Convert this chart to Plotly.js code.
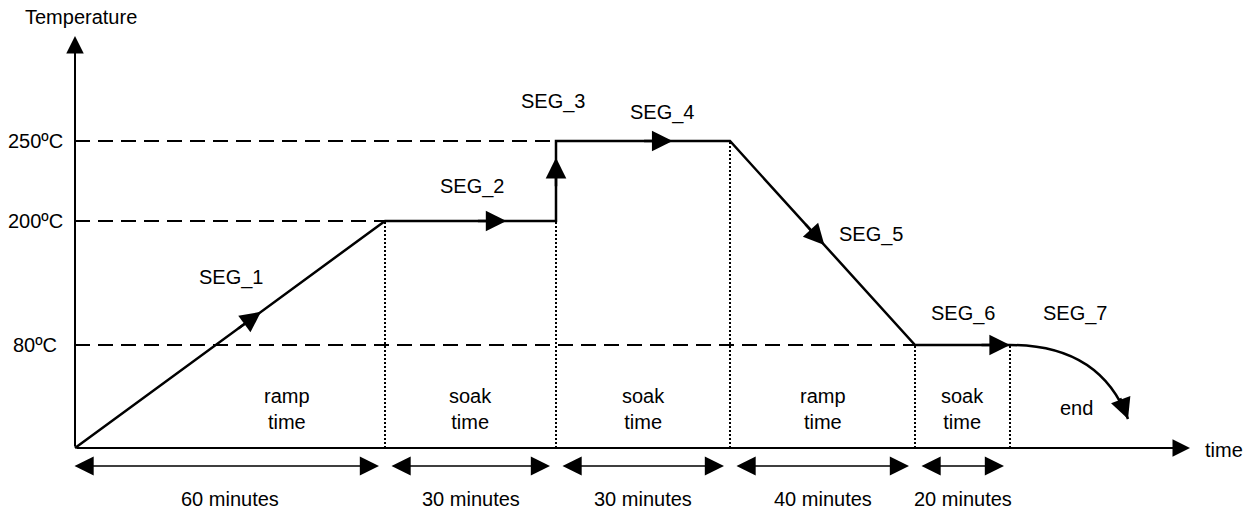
<!DOCTYPE html>
<html>
<head>
<meta charset="utf-8">
<script src="https://cdn.plot.ly/plotly-3.0.1.min.js"></script>
<style>html,body{margin:0;padding:0;background:#fff;}#chart{width:1258px;height:513px;}</style>
</head>
<body>
<div id="chart"></div>
<script>
// ---------------- data (schematic diagram units) ----------------
const segmentNames = ['SEG_1', 'SEG_2', 'SEG_3', 'SEG_4', 'SEG_5', 'SEG_6', 'SEG_7'];
const tempLabels = ['80ºC', '200ºC', '250ºC'];
const tempLevels = [103, 227, 307];            // schematic height of each temperature level
const phaseBreaks = [0, 310, 481, 655, 840, 935]; // schematic time positions of segment ends
const phaseNames = ['ramp<br>time', 'soak<br>time', 'soak<br>time', 'ramp<br>time', 'soak<br>time'];
const durationLabels = ['60 minutes', '30 minutes', '30 minutes', '40 minutes', '20 minutes'];
const profileX = [0, 310, 481, 481, 655, 840, 935];
const profileY = [0, 227, 227, 307, 307, 103, 103];
const endLabel = 'end';
const axisLabels = ['Temperature', 'time'];

// ---------------- layout constants ----------------
const FONT = {family: 'Liberation Sans, Arial, sans-serif', size: 20, color: '#000'};
const X_RANGE = [-75, 1183];
const Y_RANGE = [-65, 448];
const X_AXIS_END = 1115, Y_AXIS_END = 412;
const arrowFractions = [0.6, 0.71, 0.79, 0.67, 0.51, 1.0];
const ARROW_TAIL = 30;
const segLabelPos = [[156, 171], [397, 262], [478, 347], [587, 336], [796, 214], [888, 135], [1000, 135]];
const phaseLabelShift = [57, 0, 0, 0, 0];
const PHASE_Y = 39, DIM_Y = -18, DUR_Y = -51;

const traces = [];
// dashed level lines
tempLevels.forEach(function (lv) {
  const xEnd = profileX[profileY.indexOf(lv)];
  traces.push({x: [0, xEnd], y: [lv, lv], mode: 'lines', hoverinfo: 'skip',
    line: {color: '#000', width: 2, dash: '15px,8px'}});
});
// dotted verticals at phase breaks
for (let i = 1; i < phaseBreaks.length; i++) {
  const bx = phaseBreaks[i];
  const k = profileX.indexOf(bx);
  const top = profileY[k];
  traces.push({x: [bx, bx], y: [0, top], mode: 'lines', hoverinfo: 'skip',
    line: {color: '#000', width: 2, dash: '2px,2px'}});
}
// temperature profile
traces.push({x: profileX, y: profileY, mode: 'lines', hoverinfo: 'skip',
  line: {color: '#000', width: 2.5}});

const annotations = [];
function txt(t, x, y, extra) {
  annotations.push(Object.assign({text: t, x: x, y: y, xref: 'x', yref: 'y', showarrow: false,
    font: FONT, xanchor: 'center', yanchor: 'middle'}, extra || {}));
}
function arrow(tx, ty, fx, fy, opts) {
  annotations.push(Object.assign({text: '', x: tx, y: ty, ax: fx, ay: fy, xref: 'x', yref: 'y',
    axref: 'x', ayref: 'y', showarrow: true, arrowcolor: '#000', arrowhead: 2, standoff: 0},
    opts || {}));
}

// axes as arrows
arrow(X_AXIS_END, 0, 0, 0, {arrowwidth: 2, arrowsize: 1.75});
arrow(0, Y_AXIS_END, 0, 0, {arrowwidth: 2, arrowsize: 1.75});
txt(axisLabels[0], 6, 431);
txt(axisLabels[1], 1149, -2);

// temperature tick labels
tempLevels.forEach(function (lv, i) { txt(tempLabels[i], -40, lv); });

// direction arrows on each segment
for (let i = 0; i < profileX.length - 1; i++) {
  const x0 = profileX[i], y0 = profileY[i], x1 = profileX[i + 1], y1 = profileY[i + 1];
  const f = arrowFractions[i];
  const tx = x0 + f * (x1 - x0), ty = y0 + f * (y1 - y0);
  const len = Math.hypot(x1 - x0, y1 - y0);
  const bx = tx - ARROW_TAIL * (x1 - x0) / len, by = ty - ARROW_TAIL * (y1 - y0) / len;
  arrow(tx, ty, bx, by, {arrowwidth: 2.5, arrowsize: 1.65});
}

// SEG_7 cool-down curve
const last = profileX.length - 1;
const curveCtrl = [profileX[last] + 90, profileY[last]];
const curveEnd = [profileX[last] + 118, profileY[last] - 74];
const shapes = [{type: 'path', xref: 'x', yref: 'y',
  path: 'M ' + profileX[last] + ',' + profileY[last] + ' Q ' + curveCtrl[0] + ',' + curveCtrl[1] + ' ' + curveEnd[0] + ',' + curveEnd[1],
  line: {color: '#000', width: 2.5}}];
arrow(curveEnd[0], curveEnd[1],
  curveEnd[0] - 0.3 * (curveEnd[0] - curveCtrl[0]), curveEnd[1] - 0.3 * (curveEnd[1] - curveCtrl[1]),
  {arrowwidth: 2.5, arrowsize: 1.65});

// segment labels
segmentNames.forEach(function (s, i) { txt(s, segLabelPos[i][0], segLabelPos[i][1]); });

// phase labels, duration dimension arrows and labels
for (let i = 0; i < phaseNames.length; i++) {
  const a = phaseBreaks[i], b = phaseBreaks[i + 1];
  const mid = (a + b) / 2;
  txt(phaseNames[i], mid + phaseLabelShift[i], PHASE_Y);
  const s = i === 0 ? a - 2 : a + 5;
  const e = b - 6;
  arrow(e, DIM_Y, s, DIM_Y, {arrowwidth: 1.6, arrowsize: 2.4, arrowside: 'end+start',
    startarrowhead: 2, startarrowsize: 2.4});
  txt(durationLabels[i], mid, DUR_Y);
}
txt(endLabel, profileX[last] + 66, 40);

const layout = {
  width: 1258, height: 513,
  margin: {l: 0, r: 0, t: 0, b: 0, pad: 0},
  paper_bgcolor: '#fff', plot_bgcolor: '#fff',
  showlegend: false,
  hovermode: false,
  xaxis: {range: X_RANGE, visible: false, fixedrange: true},
  yaxis: {range: Y_RANGE, visible: false, fixedrange: true},
  annotations: annotations,
  shapes: shapes
};
Plotly.newPlot('chart', traces, layout, {displayModeBar: false, staticPlot: true});
</script>
</body>
</html>
